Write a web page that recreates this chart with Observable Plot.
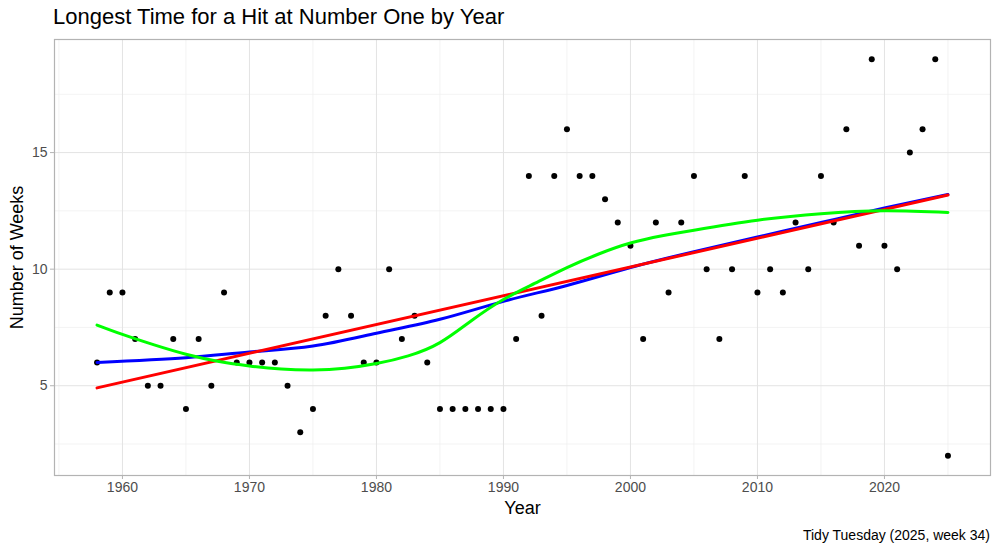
<!DOCTYPE html>
<html><head><meta charset="utf-8">
<script src="https://cdn.jsdelivr.net/npm/d3@7"></script>
<script src="https://cdn.jsdelivr.net/npm/@observablehq/plot@0.6"></script>
<style>
body{margin:0;background:#fff;font-family:"Liberation Sans",Arial,sans-serif;}
#wrap{position:relative;width:1000px;height:549px;overflow:hidden;}
#title{position:absolute;left:53px;top:4px;font-size:22px;color:#000;white-space:nowrap;}
#chart{position:absolute;left:0;top:34px;}
#caption{position:absolute;right:10px;top:527px;font-size:14px;color:#000;white-space:nowrap;}
</style></head><body>
<div id="wrap">
<div id="title">Longest Time for a Hit at Number One by Year</div>
<div id="chart"></div>
<div id="caption">Tidy Tuesday (2025, week 34)</div>
</div>
<script>
const years = [1958,1959,1960,1961,1962,1963,1964,1965,1966,1967,1968,1969,1970,1971,1972,1973,1974,1975,1976,1977,1978,1979,1980,1981,1982,1983,1984,1985,1986,1987,1988,1989,1990,1991,1992,1993,1994,1995,1996,1997,1998,1999,2000,2001,2002,2003,2004,2005,2006,2007,2008,2009,2010,2011,2012,2013,2014,2015,2016,2017,2018,2019,2020,2021,2022,2023,2024,2025];
const weeks = [6,9,9,7,5,5,7,4,7,5,9,6,6,6,6,5,3,4,8,10,8,6,6,10,7,8,6,4,4,4,4,4,4,7,14,8,14,16,14,14,13,12,11,7,12,9,12,14,10,7,10,14,9,10,9,12,10,14,12,16,11,19,11,10,15,16,19,2];

// smooth curves
const blueYears = [1958,1965,1970,1975,1980,1985,1990,1995,2000,2005,2010,2015,2020,2025];
const blueWeeks = [6.0,6.2,6.45,6.7,7.25,7.85,8.62,9.3,10.07,10.75,11.38,12.0,12.62,13.2];
const greenYears = [1958,1960,1962.5,1965,1967.5,1970,1972.5,1975,1977.5,1980,1982.5,1985,1987.5,1990,1992.5,1995,1997.5,2000,2002.5,2005,2010,2015,2020,2025];
const greenWeeks = [7.6,7.2,6.75,6.35,6.05,5.85,5.72,5.68,5.75,5.95,6.28,6.85,7.8,8.7,9.4,10.07,10.65,11.12,11.43,11.67,12.1,12.38,12.5,12.43];

const xMajor = [1960,1970,1980,1990,2000,2010,2020];
const xMinor = [1955,1965,1975,1985,1995,2005,2015,2025];
const yMajor = [5,10,15];
const yMinor = [2.5,7.5,12.5,17.5];

const pts = years.map((y,i)=>({year:y, weeks:weeks[i]}));
const blue = blueYears.map((y,i)=>({year:y, weeks:blueWeeks[i]}));
const green = greenYears.map((y,i)=>({year:y, weeks:greenWeeks[i]}));

const chart = Plot.plot({
  width:1000, height:515,
  marginTop:5, marginLeft:54, marginRight:10, marginBottom:74,
  style:{fontFamily:"Liberation Sans, Arial, sans-serif", background:"white", overflow:"visible"},
  x:{domain:[1954.65,2028.35]},
  y:{domain:[1.15,19.85]},
  marks:[
    Plot.ruleX(xMinor,{stroke:"#EEEEEE", strokeWidth:0.7}),
    Plot.ruleY(yMinor,{stroke:"#EEEEEE", strokeWidth:0.7}),
    Plot.ruleX(xMajor,{stroke:"#E3E3E3", strokeWidth:1}),
    Plot.ruleY(yMajor,{stroke:"#E3E3E3", strokeWidth:1}),
    Plot.frame({stroke:"#B3B3B3", strokeWidth:1.2}),
    Plot.axisX(xMajor,{tickSize:4, tickPadding:3, fontSize:14, fill:"#4D4D4D", stroke:"#B3B3B3", tickFormat:"d", label:null}),
    Plot.axisY(yMajor,{tickSize:4, tickPadding:3, fontSize:14, fill:"#4D4D4D", stroke:"#B3B3B3", label:null}),
    Plot.text(["Year"],{frameAnchor:"bottom", dy:33, fontSize:18, fill:"#000", lineAnchor:"middle"}),
    Plot.text(["Number of Weeks"],{frameAnchor:"left", dx:-37, rotate:-90, textAnchor:"middle", lineAnchor:"middle", fontSize:18, fill:"#000"}),
    Plot.dot(pts,{x:"year", y:"weeks", r:3, fill:"#000", stroke:"none"}),
    Plot.line(blue,{x:"year", y:"weeks", stroke:"#0000FF", strokeWidth:3, curve:"natural"}),
    Plot.linearRegressionY(pts,{x:"year", y:"weeks", stroke:"#FF0000", strokeWidth:3, ci:0}),
    Plot.line(green,{x:"year", y:"weeks", stroke:"#00FF00", strokeWidth:3, curve:"natural"})
  ]
});
document.getElementById("chart").appendChild(chart);
</script>
</body></html>
